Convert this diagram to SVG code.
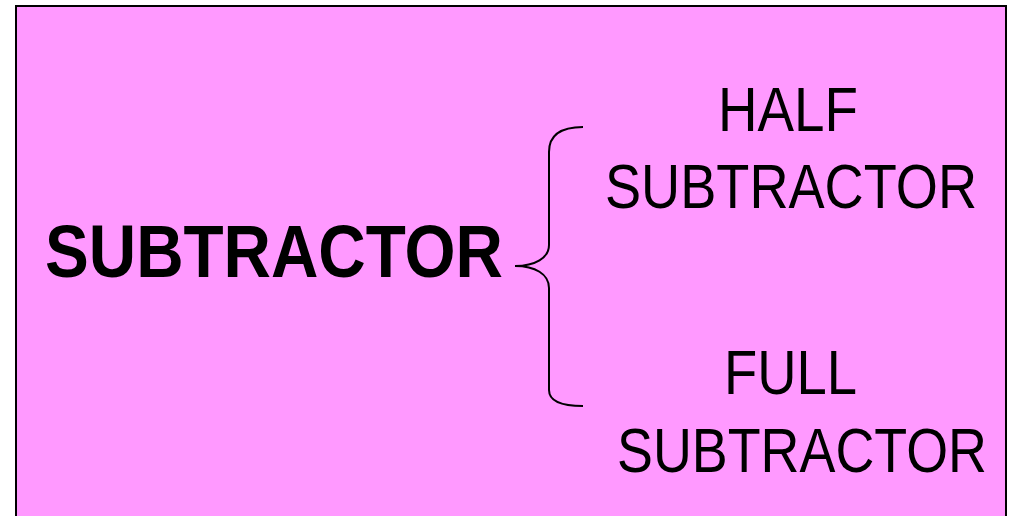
<svg xmlns="http://www.w3.org/2000/svg" width="1012" height="516" viewBox="0 0 1012 516">
<style>
text{font-family:"Liberation Sans",Arial,sans-serif;fill:#000}
.main{font-size:75px;font-weight:bold}
.sub{font-size:63px}
</style>
<rect width="1012" height="516" fill="#fff"/>
<g id="frame"><rect x="16" y="6" width="990" height="530" fill="#ff99ff" stroke="#000" stroke-width="2"/></g>
<g id="node-subtractor"><text class="main" x="45" y="277" textLength="458" lengthAdjust="spacingAndGlyphs">SUBTRACTOR</text></g>
<g id="connectors"><path d="M583,127 C560,127 549,135 549,152 L549,245 C549,258 535,266 515,266 C535,266 549,274 549,288 L549,390 C549,400 560,406 583,406" fill="none" stroke="#000" stroke-width="2"/></g>
<g id="node-half">
<text class="sub" x="718" y="131" textLength="140" lengthAdjust="spacingAndGlyphs">HALF</text>
<text class="sub" x="605" y="208" textLength="372" lengthAdjust="spacingAndGlyphs">SUBTRACTOR</text>
</g>
<g id="node-full">
<text class="sub" x="724" y="394" textLength="133" lengthAdjust="spacingAndGlyphs">FULL</text>
<text class="sub" x="617" y="472" textLength="370" lengthAdjust="spacingAndGlyphs">SUBTRACTOR</text>
</g>
</svg>
